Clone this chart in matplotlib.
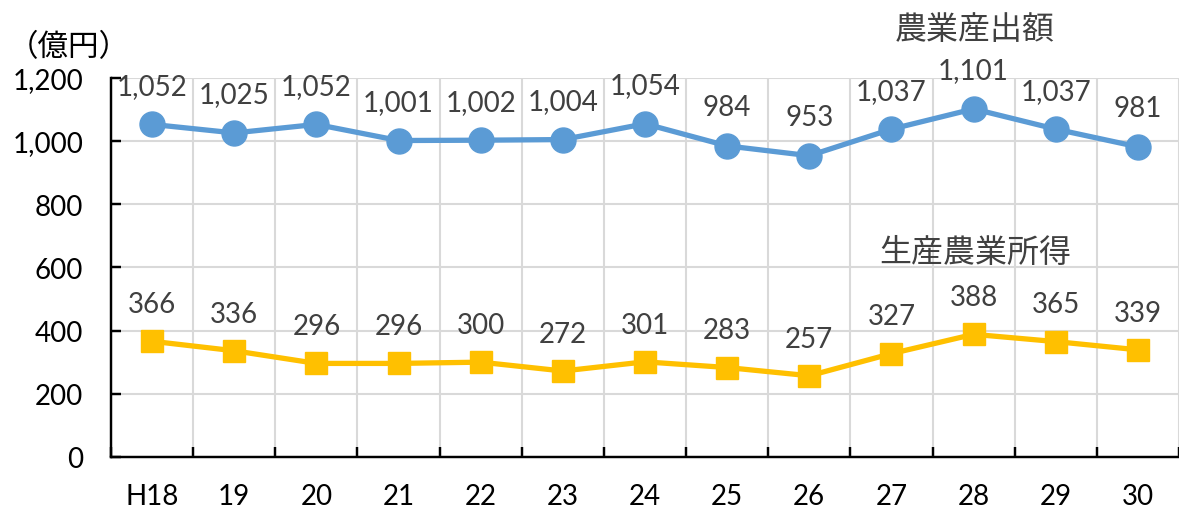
import matplotlib
matplotlib.use("Agg")
from matplotlib import pyplot as plt
from matplotlib.ticker import FixedLocator, FuncFormatter

plt.rcParams['font.family'] = ['Lato', 'Noto Sans CJK JP', 'DejaVu Sans']

years = ["H18", "19", "20", "21", "22", "23", "24", "25", "26", "27", "28", "29", "30"]
output = [1052, 1025, 1052, 1001, 1002, 1004, 1054, 984, 953, 1037, 1101, 1037, 981]
income = [366, 336, 296, 296, 300, 272, 301, 283, 257, 327, 388, 365, 339]

blue = "#5B9BD5"
yellow = "#FFC000"
label_col = "#404040"

fig = plt.figure(figsize=(11.79, 5.10), dpi=100)
ax = fig.add_axes([111 / 1179, 52 / 510, 1 - 111 / 1179, (458 - 78.6) / 510])

x = list(range(len(years)))
ax.plot(x, output, color=blue, lw=3.8, marker="o", ms=18, zorder=3, clip_on=False)
ax.plot(x, income, color=yellow, lw=3.8, marker="s", ms=16.5, zorder=3, clip_on=False)

for i in x:
    ax.annotate(f"{output[i]:,}", (i, output[i]), xytext=(0, 22), textcoords="offset points",
                ha="center", va="baseline", fontsize=20, color=label_col, zorder=4)
    ax.annotate(f"{income[i]:,}", (i, income[i]), xytext=(0, 21), textcoords="offset points",
                ha="center", va="baseline", fontsize=20, color=label_col, zorder=4)

ax.set_xlim(-0.5, len(years) - 0.5)
ax.set_ylim(0, 1200)
ax.set_yticks(range(0, 1201, 200))
ax.yaxis.set_major_formatter(FuncFormatter(lambda v, p: f"{int(v):,}"))
ax.set_xticks(x)
ax.set_xticklabels(years)
ax.xaxis.set_minor_locator(FixedLocator([i + 0.5 for i in range(-1, len(years))]))

ax.tick_params(axis="x", which="major", length=0, pad=19, labelsize=20)
ax.tick_params(axis="x", which="minor", direction="in", length=7, width=1.75, color="black")
ax.tick_params(axis="y", direction="in", length=7, width=1.75, pad=20, labelsize=20)

ax.grid(axis="y", which="major", color="#D9D9D9", lw=1.5, zorder=0)
ax.grid(axis="x", which="minor", color="#D9D9D9", lw=1.5, zorder=0)
ax.set_axisbelow(True)

for s in ["top", "right"]:
    ax.spines[s].set_visible(False)
for s in ["left", "bottom"]:
    ax.spines[s].set_linewidth(1.75)
    ax.spines[s].set_color("black")

fig.text(975 / 1179, 1 - 30 / 510, "農業産出額", ha="center", va="center", fontsize=23, color=label_col)
fig.text(975 / 1179, 1 - 253 / 510, "生産農業所得", ha="center", va="center", fontsize=23, color=label_col)
fig.text(8 / 1179, 1 - 47 / 510, "（億円）", ha="left", va="center", fontsize=22, color="black")

fig.savefig("out.png", dpi=100)
